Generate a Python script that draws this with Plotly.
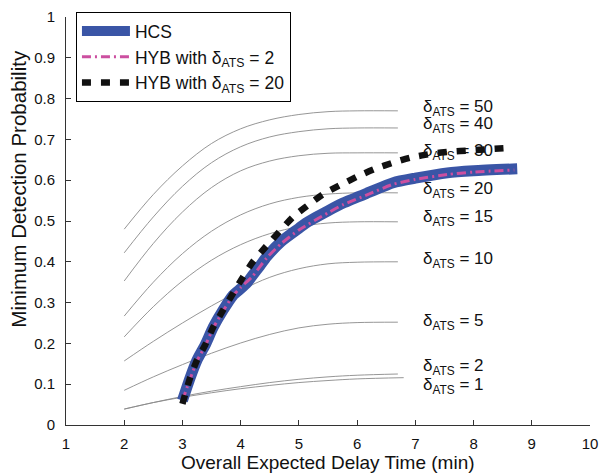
import plotly.graph_objects as go

# ---- data ----
grid_x = [2.0, 2.5, 3.0, 3.5, 4.0, 4.5, 5.0, 5.5, 6.0, 6.7]
grid_x_1 = [2.0, 2.5, 3.0, 3.5, 4.0, 4.5, 5.0, 5.5, 6.0, 6.8]
delta_labels = [50, 40, 30, 20, 15, 10, 5, 2, 1]
curve_50 = [0.480, 0.565, 0.635, 0.690, 0.726, 0.748, 0.761, 0.768, 0.770, 0.770]
curve_40 = [0.422, 0.510, 0.585, 0.643, 0.682, 0.706, 0.719, 0.726, 0.728, 0.728]
curve_30 = [0.353, 0.445, 0.522, 0.582, 0.623, 0.647, 0.660, 0.666, 0.667, 0.667]
curve_20 = [0.267, 0.350, 0.420, 0.475, 0.515, 0.542, 0.558, 0.566, 0.569, 0.569]
curve_15 = [0.216, 0.290, 0.353, 0.404, 0.442, 0.469, 0.486, 0.495, 0.498, 0.498]
curve_10 = [0.157, 0.205, 0.250, 0.292, 0.330, 0.362, 0.383, 0.395, 0.399, 0.400]
curve_5 = [0.085, 0.118, 0.148, 0.176, 0.201, 0.222, 0.238, 0.247, 0.251, 0.252]
curve_2 = [0.039, 0.055, 0.070, 0.083, 0.094, 0.104, 0.112, 0.118, 0.122, 0.125]
curve_1 = [0.039, 0.055, 0.068, 0.079, 0.089, 0.097, 0.104, 0.109, 0.113, 0.116]
label_y = [0.777, 0.735, 0.669, 0.576, 0.507, 0.404, 0.253, 0.142, 0.096]

hcs_x = [3.0, 3.13, 3.25, 3.39, 3.53, 3.70, 3.87, 4.0, 4.1, 4.2, 4.33, 4.45, 4.7,
         5.0, 5.12, 5.5, 5.76, 6.2, 6.62, 7.0, 7.55, 8.0, 8.75]
hcs_y = [0.060, 0.115, 0.159, 0.196, 0.240, 0.282, 0.318, 0.334, 0.347, 0.366, 0.390,
         0.413, 0.450, 0.482, 0.495, 0.525, 0.544, 0.570, 0.594, 0.605, 0.618, 0.623, 0.628]
hyb2_x = [3.0, 3.13, 3.25, 3.39, 3.53, 3.70, 3.87, 4.0, 4.2, 4.45, 4.7, 5.0, 5.5,
          5.76, 6.2, 6.62, 7.0, 7.55, 8.0, 8.7]
hyb2_y = [0.060, 0.112, 0.157, 0.194, 0.238, 0.280, 0.317, 0.337, 0.364, 0.410, 0.445,
          0.478, 0.520, 0.540, 0.566, 0.590, 0.602, 0.614, 0.620, 0.625]
hyb20_x = [3.0, 3.13, 3.25, 3.39, 3.53, 3.70, 3.87, 4.04, 4.21, 4.42, 4.9, 5.16, 5.42,
           5.71, 6.02, 6.31, 6.62, 6.94, 7.29, 7.6, 7.94, 8.25, 8.6]
hyb20_y = [0.052, 0.115, 0.159, 0.196, 0.240, 0.282, 0.323, 0.363, 0.400, 0.435, 0.510,
           0.539, 0.566, 0.588, 0.610, 0.628, 0.643, 0.656, 0.665, 0.670, 0.673, 0.676, 0.679]

x_ticks = list(range(1, 11))
y_ticks = [i / 10 for i in range(11)]
y_ticktext = ["0", "0.1", "0.2", "0.3", "0.4", "0.5", "0.6", "0.7", "0.8", "0.9", "1"]

curves = [curve_50, curve_40, curve_30, curve_20, curve_15, curve_10, curve_5, curve_2, curve_1]

FONT = "Liberation Sans, Arial, Helvetica, sans-serif"
fig = go.Figure()

for d, ys in zip(delta_labels, curves):
    xs = grid_x_1 if d == 1 else grid_x
    fig.add_trace(go.Scatter(x=xs, y=ys, mode="lines",
                             line=dict(color="#8a8a8a", width=0.9, shape="spline", smoothing=1.0),
                             showlegend=False, hoverinfo="skip"))

fig.add_trace(go.Scatter(x=hcs_x, y=hcs_y, mode="lines", name="HCS",
                         line=dict(color="#3a55a6", width=11, shape="spline", smoothing=0.6)))
fig.add_trace(go.Scatter(x=hyb2_x, y=hyb2_y, mode="lines", name="HYB with δ<sub>ATS</sub> = 2",
                         line=dict(color="#cc4fa0", width=3, dash="9px,4px,2px,4px", shape="spline", smoothing=0.6)))
fig.add_trace(go.Scatter(x=hyb20_x, y=hyb20_y, mode="lines", name="HYB with δ<sub>ATS</sub> = 20",
                         line=dict(color="#111111", width=6.5, dash="9px,10px", shape="spline", smoothing=0.6)))

for d, yl in zip(delta_labels, label_y):
    fig.add_annotation(x=7.1, y=yl, xref="x", yref="y", text=f"δ<sub>ATS</sub> = {d}",
                       showarrow=False, xanchor="left", yanchor="middle",
                       font=dict(family=FONT, size=17, color="#111111"))

# axis titles as annotations to match the reference placement
fig.add_annotation(x=0.5, y=-0.091, xref="paper", yref="paper", yanchor="middle",
                   text="Overall Expected Delay Time (min)", showarrow=False,
                   font=dict(family=FONT, size=19, color="#111111"))
fig.add_annotation(x=-0.0906, y=0.578, xref="paper", yref="paper", xanchor="center", yanchor="middle",
                   text="Minimum Detection Probability", showarrow=False, textangle=-90,
                   font=dict(family=FONT, size=20.5, color="#111111"))

fig.update_layout(
    template="none",
    width=601, height=474,
    margin=dict(l=66, r=11, t=17, b=49, autoexpand=False),
    paper_bgcolor="white", plot_bgcolor="white",
    font=dict(family=FONT, size=15, color="#111111"),
    showlegend=True,
    legend=dict(x=0.019, y=1.012, xanchor="left", yanchor="top",
                bgcolor="white", bordercolor="black", borderwidth=1,
                font=dict(family=FONT, size=17.5, color="#111111"),
                itemwidth=48, tracegroupgap=0),
    xaxis=dict(range=[1, 10], tickmode="array", tickvals=x_ticks, automargin=False,
               ticks="inside", ticklen=5, tickcolor="#333", showline=True, linecolor="#333",
               linewidth=1, showgrid=False, zeroline=False, mirror=False,
               ticklabelstandoff=5,
               tickfont=dict(family=FONT, size=15)),
    yaxis=dict(range=[0, 1], tickmode="array", tickvals=y_ticks, ticktext=y_ticktext, automargin=False,
               ticks="inside", ticklen=5, tickcolor="#333", showline=True, linecolor="#333",
               linewidth=1, showgrid=False, zeroline=False, mirror=False,
               ticklabelstandoff=7,
               tickfont=dict(family=FONT, size=15)),
)

fig.write_html("out.html",
               config={"displayModeBar": False},
               post_script="document.body.style.margin='0';document.body.style.overflow='hidden';")
